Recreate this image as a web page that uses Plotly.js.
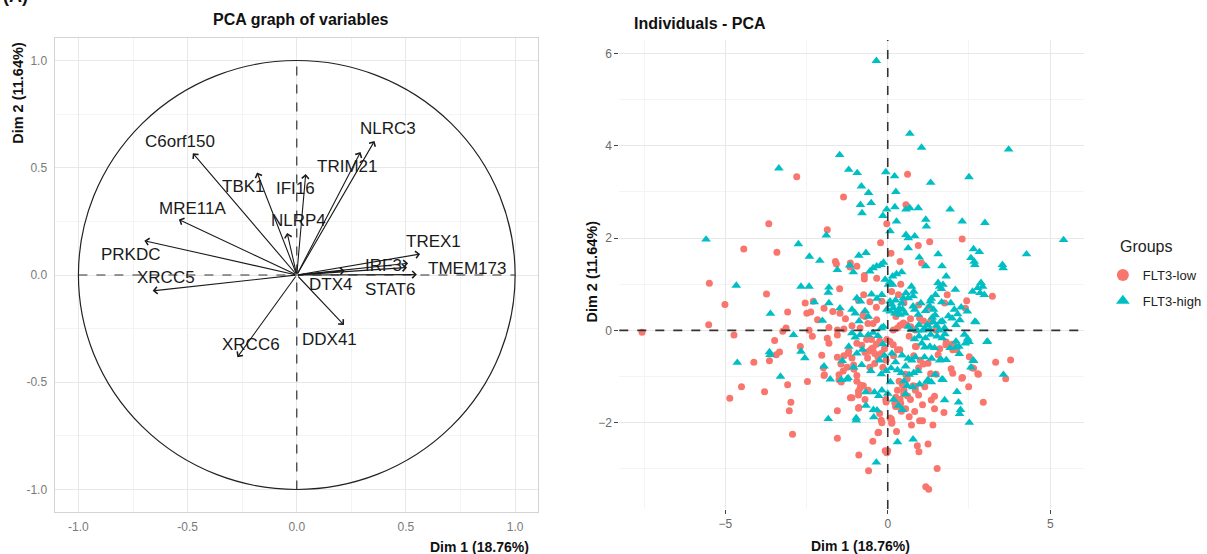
<!DOCTYPE html>
<html><head><meta charset="utf-8">
<script src="https://cdn.plot.ly/plotly-3.0.1.min.js"></script>
<style>body{margin:0;background:#fff}#chart{width:1207px;height:554px}</style>
</head><body><div id="chart"></div>
<script>
// ---------- Data: PCA graph of variables ----------
const varNames = ["C6orf150","TBK1","IFI16","TRIM21","NLRC3","MRE11A","NLRP4","PRKDC","XRCC5","TREX1","IRF3","TMEM173","STAT6","DTX4","DDX41","XRCC6"];
const varDim1 = [-0.476,-0.182,0.041,0.292,0.356,-0.540,-0.044,-0.698,-0.660,0.565,0.510,0.550,0.505,0.220,0.216,-0.272];
const varDim2 = [0.568,0.478,0.471,0.573,0.625,0.259,0.196,0.160,-0.074,0.098,0.055,0.002,0.035,0.020,-0.233,-0.383];

// ---------- Data: Individuals - PCA ----------
const groupNames = ["FLT3-low","FLT3-high"];
const highPts = [[-0.35,5.84],[0.68,4.26],[1.04,3.96],[3.72,3.92],[-1.48,3.80],[-3.35,3.51],[-1.20,3.48],[-0.94,3.41],[-0.06,3.43],[0.21,3.34],[2.50,3.32],[1.32,3.20],[-0.81,3.12],[-0.59,2.98],[0.25,3.00],
[-0.51,2.76],[-0.84,2.72],[-0.79,2.54],[-0.15,2.48],[0.22,2.67],[0.56,2.62],[0.68,2.65],[0.94,2.65],[1.92,2.62],[-0.03,2.62],[1.17,2.40],[1.19,2.25],[2.29,2.36],[2.99,2.33],[0.27,2.36],[0.07,2.15],[0.56,2.07],[0.63,2.00],[0.83,2.04],
[-5.59,1.97],[5.41,1.96],[-1.89,2.06],[-2.75,1.87],[0.63,1.78],[1.55,1.65],[2.64,1.76],[2.82,1.70],[2.56,1.57],[2.66,1.49],[2.68,1.42],[4.27,1.65],[3.53,1.42],[3.55,1.35],[0.97,1.58],[1.17,1.39],[1.67,1.39],[-0.21,1.42],[-0.34,1.39],[-0.13,1.47],[0.27,1.22],[0.43,1.26],[0.15,1.17],[1.80,1.17],
[-2.41,1.60],[-2.09,1.51],[-1.55,1.31],[-1.17,1.41],[-0.89,1.62],[-0.67,1.68],[-1.06,1.26],[-0.55,1.28],[-0.45,1.35],
[-4.66,0.97],[-3.61,0.36],[-2.67,0.95],[-2.42,0.95],[-1.81,0.93],[-1.83,0.82],[-2.26,0.61],[-1.81,0.59],[-1.47,0.48],[-1.10,0.45],[-1.00,0.37],[-0.95,0.70],[-0.84,0.63],[-0.88,0.20],[-0.70,0.42],[-0.60,0.30],[-0.50,0.78],[-0.33,0.69],[-0.20,0.05],[-2.01,0.21],[0.24,0.65],
[-0.08,1.10],[0.07,1.05],[0.02,0.99],[0.15,0.99],[1.55,1.03],[1.60,0.95],[1.70,0.99],[1.65,0.90],[2.87,1.03],[2.92,0.95],[2.77,0.92],[2.61,0.84],[2.84,0.81],[2.97,0.77],[2.08,0.88],[0.73,0.95],[0.80,0.84],[0.56,0.81],[0.78,0.74],[0.63,0.70],[1.47,0.77],[-0.18,0.77],[1.34,0.69],[1.66,0.61],[1.94,0.59],
[2.26,0.50],[2.45,0.41],[2.05,0.45],[2.15,0.35],[2.22,0.22],[1.98,0.26],[2.10,0.12],[2.71,0.18],[1.87,0.31],[1.62,0.18],[1.46,0.33],[1.16,0.42],
[1.31,0.63],[1.29,0.52],[1.02,0.59],[0.48,0.70],[0.43,0.59],[0.36,0.48],[0.30,0.41],[0.46,0.45],[0.53,0.37],[0.22,0.37],[0.38,0.34],[0.78,0.52],[0.83,0.45],[0.94,0.34],[0.07,0.63],[0.12,0.56],[-0.03,0.45],[0.07,0.41],[0.17,0.48],[2.68,0.19],
[1.37,0.28],[1.41,0.45],[1.50,0.10],[1.40,0.18],[1.68,0.20],[1.75,0.05],[1.58,0.00],
[0.96,0.12],[1.14,0.05],[1.22,0.12],[0.90,0.00],[1.08,0.00],[1.30,0.02],[0.63,0.08],[0.73,0.01],[-0.13,0.08],
[3.07,-0.24],[2.36,-0.09],[2.46,-0.18],[2.39,-0.28],[2.10,-0.24],[2.19,-0.35],[0.96,-0.13],[1.16,-0.17],[1.32,-0.09],[1.52,-0.13],[1.68,-0.17],[1.76,-0.08],[1.05,-0.28],[1.30,-0.35],[0.82,-0.19],[3.05,-0.25],[2.50,-0.25],
[1.14,-0.37],[1.44,-0.38],[1.92,-0.38],[2.10,-0.37],[2.20,-0.51],[1.65,-0.64],[1.80,-0.64],[2.64,-0.66],[2.56,-0.80],[3.56,-0.96],[1.24,-1.07],[1.34,-1.12],[1.67,-1.06],[1.46,-0.96],[2.13,-1.33],[1.75,-1.51],[2.18,-1.56],[2.24,-1.72],[2.21,-1.81],[2.51,-2.00],[0.30,-2.42],[0.78,-2.36],
[0.13,-0.50],[0.24,-0.69],[0.44,-0.54],[0.63,-0.61],[0.74,-0.65],[0.85,-0.58],[1.13,-0.58],[1.35,-0.61],[1.60,-0.65],[2.63,-0.65],[0.10,-0.82],[-0.05,-0.88],[0.30,-0.86],[0.55,-0.78],[0.42,-0.92],[0.66,-0.96],[0.80,-0.92],[0.93,-0.88],[0.50,-1.10],[0.60,-1.20],[0.08,-1.12],[0.00,-1.37],[0.77,-1.23],[0.98,-1.17],[1.20,-1.11],[0.18,-1.50],[0.33,-1.63],[0.55,-1.38],[0.45,-1.72],[1.70,-1.07],
[-4.63,-0.70],[-3.64,-0.47],[-3.62,-0.53],[-3.30,-1.00],[-2.67,-0.46],[-2.55,-0.60],[-2.90,-0.10],[-1.96,-0.78],[-1.77,-1.06],[-1.43,-1.07],[-1.26,-1.06],[-1.22,-1.03],[-1.40,-0.66],[-1.83,-1.92],[-0.97,-1.90],[-0.97,-1.95],[-0.67,-1.63],[-0.44,-1.72],[-0.43,-1.88],[-0.33,-1.73],[-0.68,-1.34],[-0.41,-1.34],[-0.28,-1.42],[-0.18,-1.30],[-0.35,-2.86],
[-1.10,-0.06],[-1.00,-0.15],[-0.85,-0.10],[-0.60,-0.10],[-0.45,-0.05],[-0.30,-0.12],[-1.20,-0.35],[-0.95,-0.50],[-0.78,-0.42],[-0.15,-0.30],[-0.10,-0.55],[-0.25,-0.65],[-0.80,-0.75],[-1.05,-0.80],[-0.52,-0.88],[-0.20,-0.95]];
const lowPts = [[-7.56,-0.04],[-5.49,1.02],[-5.01,0.56],[-5.51,0.12],[-4.73,-0.10],[-4.43,1.76],[-3.66,2.31],[-3.41,1.69],[-2.80,3.33],[-1.36,2.89],[-1.86,2.18],[-3.73,0.79],[-3.08,0.40],[-3.13,0.05],[-3.23,-0.02],[-3.48,-0.22],[-4.12,-0.69],[-3.64,-0.66],[-3.43,-0.53],[-3.33,-0.47],[-4.50,-1.22],[-3.79,-1.33],[-4.86,-1.47],[-3.08,-1.18],[-2.98,-1.56],[-3.03,-1.74],[-2.93,-2.25],[-2.69,-0.35],[-2.47,-1.11],
[-2.54,0.59],[-2.29,0.63],[-2.49,0.37],[-2.37,0.40],[-1.96,0.48],[-1.69,0.41],[-1.47,0.37],[-1.48,0.90],[-2.16,0.23],[-1.81,0.06],[-1.55,0.01],[-1.35,0.03],[-2.42,0.00],[-2.32,-0.13],[-1.86,-0.17],[-1.81,-0.28],[-0.74,0.77],
[-1.61,1.49],[-1.58,1.44],[-1.15,1.46],[-0.95,1.39],[-0.22,1.90],[-0.03,2.31],[0.56,2.72],[0.61,3.38],
[0.10,1.67],[0.38,1.49],[1.04,1.46],[0.94,1.84],[1.29,1.92],[2.29,1.98],[-0.34,1.13],[0.12,0.84],[0.33,0.77],[1.83,0.77],[2.43,0.64],[3.22,0.74],[-0.18,0.63],[1.27,0.50],[2.39,0.48],[1.32,0.19],[0.48,0.16],[0.58,0.12],[0.38,0.11],[0.86,0.01],[0.17,0.01],[0.30,0.05],[1.75,0.59],
[1.98,-0.30],[2.05,-0.33],[0.88,-0.35],[0.66,-0.13],[0.07,-0.24],[0.17,-0.31],[-0.03,-0.20],[2.00,-0.42],[1.55,-0.53],[2.51,-0.57],[3.32,-0.69],[3.78,-0.64],[2.64,-0.82],[1.95,-0.83],[2.00,-0.93],[2.79,-0.95],[3.63,-1.05],[2.30,-1.02],[1.24,-0.71],[1.49,-0.95],[2.49,-1.22],[1.14,-1.22],[1.44,-1.43],[1.34,-1.51],[1.07,-1.61],[2.94,-1.56],[1.44,-1.70],[1.73,-1.78],[0.83,-1.76],[0.66,-1.87],[0.98,-1.96],[1.07,-1.96],[1.39,-2.05],[0.73,-2.05],[0.12,-2.01],[0.07,-1.90],[0.27,-2.19],[0.91,-2.50],[0.96,-2.63],[1.24,-2.46],[0.00,-2.61],[-0.03,-2.65],[1.52,-2.99],[1.17,-3.39],[1.26,-3.44],
[0.35,-1.10],[0.45,-1.18],[0.50,-1.30],[0.30,-1.30],[0.25,-1.45],[0.22,-1.58],[0.30,-1.65],[0.40,-1.58],[0.42,-1.75],[0.55,-1.70],[0.60,-1.05],[0.78,-1.20],[0.85,-1.30],[0.95,-1.40],[0.70,-1.50],
[-2.03,-0.54],[-1.96,-0.98],[-1.50,-0.96],[-1.50,-1.07],[-1.43,-1.12],[-1.55,-1.74],[-1.15,-1.46],[-0.89,-1.67],[-1.55,-2.34],[-0.28,-2.21],[-0.46,-2.40],[-0.89,-2.70],[-0.59,-3.04],[-0.08,-2.61],[-1.35,-0.55],[-1.20,-0.45],[-1.10,-0.60],[-1.05,-0.75],[-1.25,-0.80],[-0.95,-1.10],[-0.85,-1.25],[-0.75,-1.20],[-0.60,-1.30],[-0.90,-1.40],[-0.70,-1.50],[-0.25,-1.80],[-0.20,-1.95],[-0.05,-1.55],
[-0.58,-0.45],[-0.50,-0.40],[-0.45,-0.38],[-0.40,-0.50],[-0.35,-0.30],[-0.30,-0.58],[-0.55,-0.80],[-0.40,-0.72],[-0.15,-0.80],[-0.65,-0.20],[-0.50,-0.20],[-0.25,-0.23],[-0.70,-0.48],[-0.62,-0.60],[-0.20,-0.50],[-0.10,-0.40],[-0.05,-0.65],[0.18,-0.55],[0.30,-0.42],[-1.55,-0.10],[-0.80,-0.32],[-0.95,-0.28],[-1.10,0.10],[-0.85,0.05],[-0.45,0.15],[-0.70,0.30],[-1.30,0.25],[-0.55,0.62],[-0.35,0.50],[-0.72,1.19],[-0.72,1.11],[-0.90,0.65],
[0.40,1.00],[0.50,0.60],[0.95,0.55],[1.10,0.20],[0.70,0.25],[0.25,0.30],[0.80,-0.55],[1.00,-0.65],[0.55,-0.95],[1.60,-0.40],[1.80,-0.25],
[-0.76,0.32],[-0.61,0.15],[-0.34,0.23],[0.43,0.12],[0.71,0.08],[0.98,0.27],[1.37,0.21],[1.49,0.00],[2.11,-0.42],[2.59,-0.81],[2.77,-0.94],[2.28,-1.04],[1.79,-0.31],[0.85,-0.35],[0.37,-0.42],[0.95,-0.81],[1.10,-0.73],[1.32,-0.94],[0.49,-1.38],[0.61,-1.42],[0.85,-1.21],[-1.04,-0.84],[-0.95,-0.98],[-0.83,-1.19],[-1.22,-0.50],
[-1.98,-0.81],[-1.95,-0.96],[-1.55,-0.58],[-1.44,-0.73],[-1.37,-0.88],[-1.16,1.37],[-1.10,-1.46],[-0.90,-1.32],[-0.90,-1.69],[-0.30,-2.22],[-0.18,-2.00],[0.11,-1.92],[0.13,-1.99],[0.38,-1.50],[0.34,-1.57],[0.24,-1.65],[-0.06,-1.50]];

// ---------- Layout helpers (positions / styles) ----------
const FONT = "Liberation Sans, Arial, Helvetica, sans-serif";
// label offsets from arrow tips (repelled text placement)
const labelOffset = [[-0.058,0.054],[-0.063,-0.066],[-0.047,-0.069],[-0.060,-0.067],[0.060,0.056],[0.064,0.053],[0.054,0.056],[-0.062,-0.066],[0.060,0.061],[0.063,0.056],[-0.113,-0.010],[0.230,0.029],[-0.080,-0.104],[-0.064,-0.066],[-0.065,-0.068],[0.061,0.058]];

const W = 1207, H = 554;
const px = v => v / W;
const py = v => 1 - v / H;

const traces = [
  {type:"scatter", mode:"markers", name:groupNames[0], x:lowPts.map(p=>p[0]), y:lowPts.map(p=>p[1]),
   xaxis:"x2", yaxis:"y2", marker:{symbol:"circle", size:7, color:"#F8766D"}, legendgroup:"a", hoverinfo:"x+y"},
  {type:"scatter", mode:"markers", name:groupNames[1], x:highPts.map(p=>p[0]), y:highPts.map(p=>p[1]),
   xaxis:"x2", yaxis:"y2", marker:{symbol:"triangle-up", size:8.5, color:"#00BFC4"}, legendgroup:"b", hoverinfo:"x+y"},
  {type:"scatter", mode:"markers", x:[0], y:[0], xaxis:"x", yaxis:"y", marker:{size:1, color:"rgba(0,0,0,0)"}, showlegend:false, hoverinfo:"skip"}
];

const annotations = [];
varNames.forEach((n,i)=>{
  annotations.push({xref:"x", yref:"y", axref:"x", ayref:"y", x:varDim1[i], y:varDim2[i], ax:0, ay:0,
    text:"", showarrow:true, arrowhead:4, arrowsize:1.25, arrowwidth:1.1, arrowcolor:"#1a1a1a"});
});
varNames.forEach((n,i)=>{
  annotations.push({xref:"x", yref:"y", x:varDim1[i]+labelOffset[i][0], y:varDim2[i]+labelOffset[i][1],
    xanchor:"center", yanchor:"middle",
    text:n, showarrow:false, font:{family:FONT, size:17, color:"#1a1a1a"}});
});
// titles and axis titles
const T = (x, y, text, size, extra) => Object.assign({xref:"paper", yref:"paper", x:px(x), y:py(y), text, showarrow:false,
  xanchor:"center", yanchor:"middle", font:{family:FONT, size, color:"#111"}}, extra || {});
annotations.push(
  T(304, 20, "<b>PCA graph of variables</b>", 16),
  T(536, 547, "<b>Dim 1 (18.76%)</b>", 14, {xanchor:"right"}),
  T(18, 40, "<b>Dim 2 (11.64%)</b>", 14.5, {yanchor:"top", textangle:-90}),
  T(638, 23, "<b>Individuals - PCA</b>", 16, {xanchor:"left"}),
  T(868, 546, "<b>Dim 1 (18.76%)</b>", 14),
  T(597, 272, "<b>Dim 2 (11.64%)</b>", 14.5, {textangle:-90}),
  T(1128, 246, "Groups", 16, {xanchor:"left", font:{family:FONT, size:16, color:"#222"}}),
  T(1, 8, "<b>(A)</b>", 18, {xanchor:"left", yanchor:"bottom"})
);

const shapes = [
  {type:"circle", xref:"x", yref:"y", x0:-1, x1:1, y0:-1, y1:1, line:{color:"#222", width:1.2}},
  {type:"line", xref:"x", yref:"y", x0:-1, x1:1, y0:0, y1:0, line:{color:"#333", width:1.2, dash:"dash"}},
  {type:"line", xref:"x", yref:"y", x0:0, x1:0, y0:-1, y1:1, line:{color:"#333", width:1.2, dash:"dash"}},
  {type:"line", xref:"x2", yref:"y2 domain", x0:0, x1:0, y0:0, y1:1, line:{color:"#333", width:1.6, dash:"dash"}},
  {type:"line", xref:"x2 domain", yref:"y2", x0:0, x1:1, y0:0, y1:0, line:{color:"#333", width:1.6, dash:"dash"}}
];

const gridMajor = "#e8e8e8", gridMinor = "#f4f4f4";
const layout = {
  width:W, height:H, autosize:false,
  margin:{l:0,r:0,t:0,b:0},
  paper_bgcolor:"#fff", plot_bgcolor:"#fff",
  font:{family:FONT},
  showlegend:true,
  legend:{x:px(1113), y:py(260), xanchor:"left", yanchor:"top", font:{family:FONT, size:13, color:"#222"},
          traceorder:"grouped", tracegroupgap:6, bgcolor:"rgba(0,0,0,0)", itemclick:false, itemsizing:"constant"},
  xaxis:{domain:[px(56), px(543)], range:[-1.105,1.105], tickvals:[-1,-0.5,0,0.5,1], ticktext:["-1.0","-0.5","0.0","0.5","1.0"],
    showgrid:true, gridcolor:gridMajor, gridwidth:1, zeroline:false, showline:true, mirror:true, linecolor:"#d4d4d4", linewidth:1,
    minor:{tickvals:[-0.75,-0.25,0.25,0.75], showgrid:true, gridcolor:gridMinor, gridwidth:1},
    ticks:"", tickfont:{family:FONT, size:12, color:"#7a7a7a"}, ticklabelstandoff:4, fixedrange:true},
  yaxis:{domain:[py(512), py(38)], range:[-1.105,1.105], tickvals:[-1,-0.5,0,0.5,1], ticktext:["-1.0","-0.5","0.0","0.5","1.0"],
    showgrid:true, gridcolor:gridMajor, gridwidth:1, zeroline:false, showline:true, mirror:true, linecolor:"#d4d4d4", linewidth:1,
    minor:{tickvals:[-0.75,-0.25,0.25,0.75], showgrid:true, gridcolor:gridMinor, gridwidth:1},
    ticks:"", tickfont:{family:FONT, size:12, color:"#7a7a7a"}, ticklabelstandoff:5, fixedrange:true},
  xaxis2:{domain:[px(625), px(1094)], range:[-8.26,6.04], tickvals:[-5,0,5], anchor:"y2",
    showgrid:true, gridcolor:gridMajor, gridwidth:1, zeroline:false, showline:false,
    minor:{tickvals:[-7.5,-2.5,2.5], showgrid:true, gridcolor:gridMinor, gridwidth:1},
    ticks:"outside", ticklen:4, tickcolor:"#444", tickwidth:1, tickfont:{family:FONT, size:12, color:"#6a6a6a"}, fixedrange:true},
  yaxis2:{domain:[py(509), py(40)], range:[-3.87,6.29], tickvals:[-2,0,2,4,6], anchor:"x2",
    showgrid:true, gridcolor:gridMajor, gridwidth:1, zeroline:false, showline:false,
    minor:{tickvals:[-3,-1,1,3,5], showgrid:true, gridcolor:gridMinor, gridwidth:1},
    ticks:"outside", ticklen:4, tickcolor:"#444", tickwidth:1, tickfont:{family:FONT, size:12, color:"#6a6a6a"}, fixedrange:true},
  annotations, shapes
};

Plotly.newPlot("chart", traces, layout, {displayModeBar:false, staticPlot:true});
</script>
</body></html>
